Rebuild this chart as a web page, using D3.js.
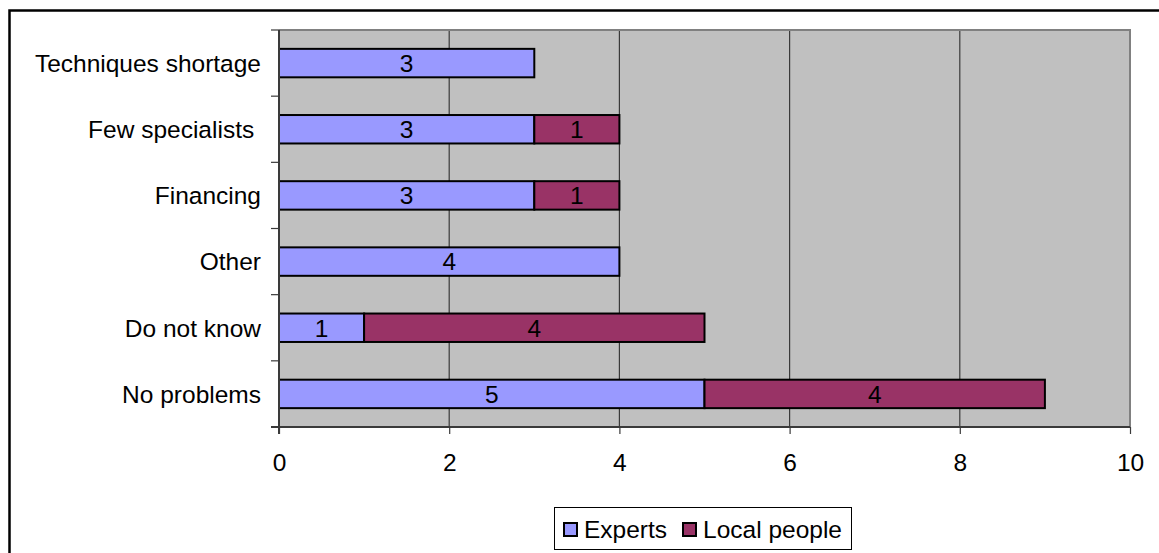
<!DOCTYPE html>
<html>
<head>
<meta charset="utf-8">
<script src="https://cdn.jsdelivr.net/npm/d3@7"></script>
<style>
  html, body { margin: 0; padding: 0; background: #fff; }
  svg { display: block; }
  text { font-family: "Liberation Sans", Arial, sans-serif; fill: #000; }
</style>
</head>
<body>
<svg id="chart" width="1159" height="553"></svg>
<script>
// Problems named by respondents, top to bottom
const categories = ["Techniques shortage", "Few specialists ", "Financing", "Other", "Do not know", "No problems"];
const experts     = [3, 3, 3, 4, 1, 5];
const localPeople = [0, 1, 1, 0, 4, 4];
const seriesNames = ["Experts", "Local people"];
const seriesColors = ["#9999FF", "#993366"];
const xTicks = [0, 2, 4, 6, 8, 10];

const svg = d3.select("#chart");
const plot = { left: 279, right: 1130, top: 30, bottom: 427 };
const fontSize = 24.5;

// Outer chart frame (runs past the right and bottom edges)
svg.append("rect")
  .attr("x", 9.5).attr("y", 10.5)
  .attr("width", 1300).attr("height", 700)
  .attr("fill", "#fff").attr("stroke", "#000").attr("stroke-width", 2.5);

const x = d3.scaleLinear().domain([0, 10]).range([plot.left, plot.right]);
const y = d3.scaleBand().domain(categories).range([plot.top, plot.bottom]).paddingInner(0.57).paddingOuter(0.285);
const band = d3.scaleBand().domain(categories).range([plot.top, plot.bottom]);

// Plot background
svg.append("rect")
  .attr("x", plot.left).attr("y", plot.top)
  .attr("width", plot.right - plot.left).attr("height", plot.bottom - plot.top)
  .attr("fill", "#C0C0C0");

// Vertical gridlines
svg.append("g").selectAll("line")
  .data(xTicks.slice(1, -1))
  .join("line")
  .attr("x1", d => x(d)).attr("x2", d => x(d))
  .attr("y1", plot.top).attr("y2", plot.bottom)
  .attr("stroke", "#3a3a3a").attr("stroke-width", 1.2);

// Plot frame: grey top and right edges
svg.append("path")
  .attr("d", `M${plot.left},${plot.top}H${plot.right}V${plot.bottom}`)
  .attr("fill", "none").attr("stroke", "#808080").attr("stroke-width", 2);

// Stacked data
const rows = categories.map((c, i) => ({ cat: c, vals: [experts[i], localPeople[i]] }));
const stacked = d3.stack().keys([0, 1]).value((d, k) => d.vals[k])(rows);

const gBars = svg.append("g");
stacked.forEach((layer, k) => {
  layer.forEach((seg, i) => {
    const v = seg[1] - seg[0];
    if (v <= 0) return;
    const cat = rows[i].cat;
    gBars.append("rect")
      .attr("x", x(seg[0])).attr("y", y(cat))
      .attr("width", x(seg[1]) - x(seg[0])).attr("height", y.bandwidth())
      .attr("fill", seriesColors[k]).attr("stroke", "#000").attr("stroke-width", 2);
    gBars.append("text")
      .attr("x", (x(seg[0]) + x(seg[1])) / 2)
      .attr("y", y(cat) + y.bandwidth() / 2)
      .attr("dy", "0.36em")
      .attr("text-anchor", "middle")
      .attr("font-size", fontSize)
      .text(v);
  });
});

// X axis
const xAxis = svg.append("g").attr("transform", `translate(0,${plot.bottom})`)
  .call(d3.axisBottom(x).tickValues(xTicks).tickSize(7).tickPadding(20).tickFormat(d3.format("d")));
xAxis.select(".domain").attr("stroke", "#3a3a3a").attr("stroke-width", 2)
  .attr("d", `M${plot.left - 8},0H${plot.right}`);
xAxis.selectAll(".tick line").attr("stroke", "#3a3a3a").attr("stroke-width", 1.2);
xAxis.selectAll(".tick text").attr("font-size", fontSize).attr("fill", "#000")
  .attr("font-family", "Liberation Sans, Arial, sans-serif");

// Y axis: ticks sit on band boundaries, labels centred in bands
const gy = svg.append("g");
gy.append("line")
  .attr("x1", plot.left).attr("x2", plot.left)
  .attr("y1", plot.top).attr("y2", plot.bottom + 7)
  .attr("stroke", "#3a3a3a").attr("stroke-width", 2);
gy.selectAll("line.tick")
  .data(categories.concat(["_end"]))
  .join("line")
  .attr("class", "tick")
  .attr("x1", plot.left - 8).attr("x2", plot.left)
  .attr("y1", (d, i) => i < categories.length ? band(d) : plot.bottom)
  .attr("y2", (d, i) => i < categories.length ? band(d) : plot.bottom)
  .attr("stroke", "#3a3a3a").attr("stroke-width", 1.2);
gy.selectAll("text")
  .data(categories)
  .join("text")
  .attr("x", plot.left - 18)
  .attr("y", d => band(d) + band.bandwidth() / 2)
  .attr("dy", "0.36em")
  .attr("text-anchor", "end")
  .attr("font-size", fontSize)
  .style("white-space", "pre")
  .text(d => d);

// Legend
const lg = svg.append("g").attr("transform", "translate(554,507)");
lg.append("rect").attr("x", 0.5).attr("y", 0.5).attr("width", 297).attr("height", 42)
  .attr("fill", "#fff").attr("stroke", "#000").attr("stroke-width", 1);
const legendItems = [{ name: seriesNames[0], color: seriesColors[0], x: 10 },
                     { name: seriesNames[1], color: seriesColors[1], x: 129 }];
legendItems.forEach(it => {
  lg.append("rect").attr("x", it.x).attr("y", 16).attr("width", 13).attr("height", 13)
    .attr("fill", it.color).attr("stroke", "#000").attr("stroke-width", 2);
  lg.append("text").attr("x", it.x + 20).attr("y", 22.5).attr("dy", "0.36em")
    .attr("font-size", fontSize).text(it.name);
});
</script>
</body>
</html>
